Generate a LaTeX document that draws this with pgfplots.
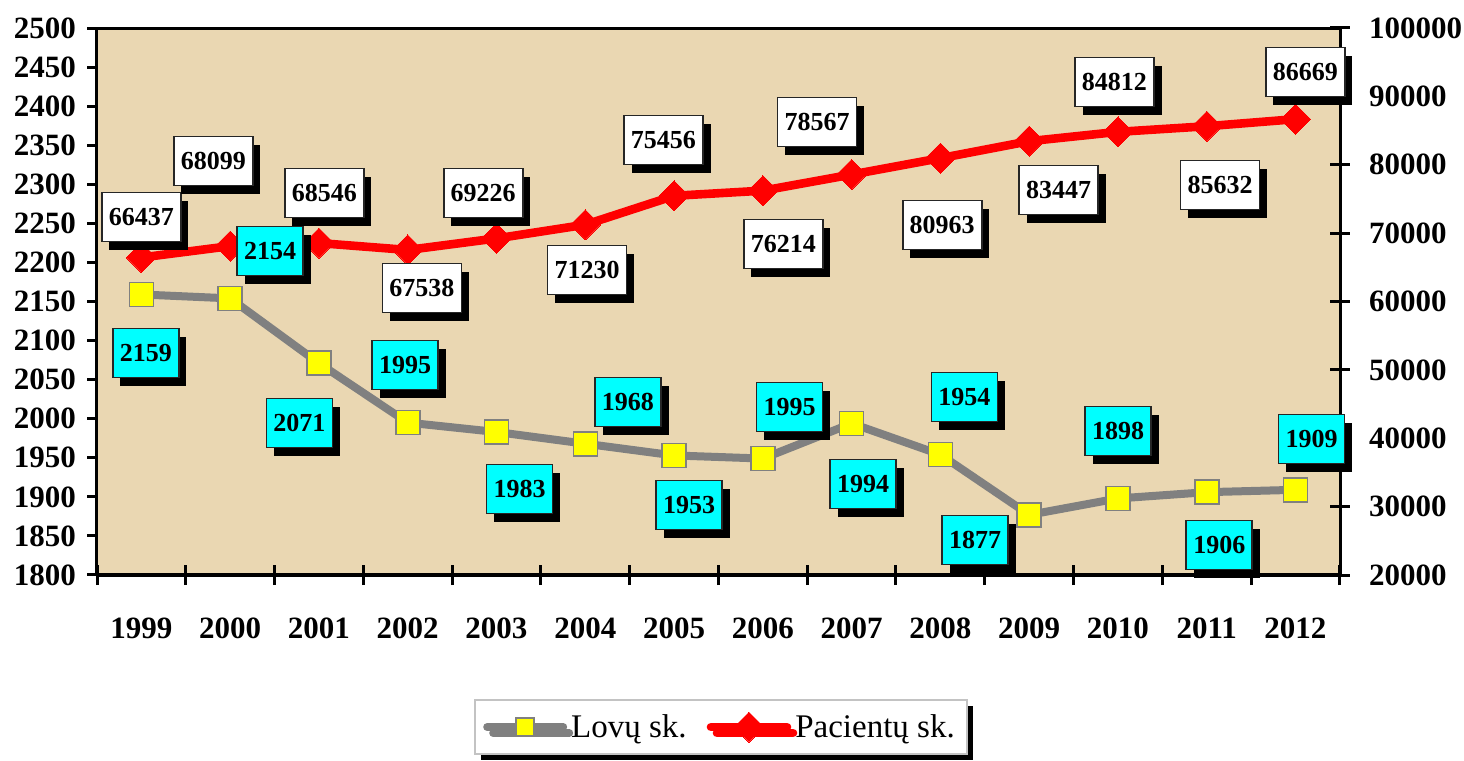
\documentclass[border=0pt]{standalone}
\usepackage{pgfplots}
\pgfplotsset{compat=1.18}
\usepackage{pgfplotstable}
\usepackage{fontspec}
\setmainfont{Liberation Serif}
\usetikzlibrary{shadows}
\definecolor{bg}{RGB}{234,215,178}
\definecolor{lgray}{RGB}{128,128,128}
\definecolor{legbord}{RGB}{195,195,195}
\definecolor{aqua}{RGB}{0,255,255}
\definecolor{pureyellow}{RGB}{255,255,0}
\definecolor{purered}{RGB}{255,0,0}

\pgfplotstableread{
x y
1999 2159
2000 2154
2001 2071
2002 1995
2003 1983
2004 1968
2005 1953
2006 1949
2007 1994
2008 1954
2009 1877
2010 1898
2011 1906
2012 1909
}\lovos

\pgfplotstableread{
x y
1999 66437
2000 68099
2001 68546
2002 67538
2003 69226
2004 71230
2005 75456
2006 76214
2007 78567
2008 80963
2009 83447
2010 84812
2011 85632
2012 86669
}\pacientai

\pgfplotstableread{
x y label
1999.05 2084.1 2159
2000.45 2214.6 2154
2000.78 1994.5 2071
2001.97 2068.7 1995
2003.26 1910.0 1983
2004.48 2021.4 1968
2005.17 1889.6 1953
2006.30 2015.0 1995
2007.13 1916.5 1994
2008.27 2027.8 1954
2008.39 1844.8 1877
2010.00 1984.3 1898
2011.14 1838.4 1906
2012.18 1974.0 1909
}\lovoslbl

\pgfplotstableread{
x y label
1999.00 72359 66437
1999.81 80549 68099
2001.06 75869 68546
2002.16 61975 67538
2002.85 75869 69226
2004.02 64608 71230
2004.88 83620 75456
2006.23 68410 76214
2006.61 86253 78567
2008.02 71189 80963
2009.33 76308 83447
2009.96 92103 84812
2011.15 77039 85632
2012.11 93565 86669
}\pacientailbl

\pgfplotsset{
  base/.style={
    scale only axis, width=621.5pt, height=273.5pt,
    at={(48.5pt,93pt)}, anchor=south west,
    xmin=1998.5, xmax=2012.5, clip=false,
    axis line style={line width=1.5pt, black},
    tick style={line width=1.5pt, black},
    scaled ticks=false,
    /pgf/number format/fixed,
    /pgf/number format/precision=0,
    /pgf/number format/1000 sep={},
    /pgf/number format/assume math mode=true,
    ticklabel style={font=\fontsize{15.5}{18}\selectfont\bfseries},
  },
  lbl/.style={
    draw=none, mark=none,
    nodes near coords, point meta=explicit symbolic,
    every node near coord/.append style={
      anchor=center, draw=black!85, line width=0.8pt, fill=#1,
      font=\fontsize{13}{15}\selectfont\bfseries,
      inner xsep=3.5pt, inner ysep=0pt, minimum height=24.5pt,
      drop shadow={shadow xshift=3.8pt, shadow yshift=-4.3pt, fill=black, opacity=1},
    },
  },
}

\begin{document}
\begin{tikzpicture}
\useasboundingbox (0,0) rectangle (732pt,380.5pt);

% left axis: background, grey series, year labels
\begin{axis}[base,
  ymin=1800, ymax=2500, ytick={1800,1850,...,2500},
  axis background/.style={fill=bg},
  ytick pos=left, tick align=outside, major tick length=5pt,
  xtick={1999,...,2012}, xtick pos=bottom,
  x tick style={draw=none},
  xticklabel shift=13pt,
  yticklabel shift=2pt,
]
\addplot[lgray, line width=4pt, mark=square*, mark size=6pt,
  mark options={fill=pureyellow, draw=lgray, line width=0.8pt}]
  table[x=x,y=y]{\lovos};
\end{axis}

% right axis: red series, x boundary ticks, legend
\begin{axis}[base,
  ymin=20000, ymax=100000, ytick={20000,30000,...,100000},
  axis y line*=right, axis x line*=bottom,
  tick align=center, major tick length=10pt,
  xtick={1998.5,1999.5,...,2012.5}, xticklabels={},
  yticklabel shift=6pt,
  legend columns=2,
  legend image code/.code={\draw[mark repeat=2,mark phase=2,#1] plot coordinates {(0pt,0pt) (19pt,0pt) (38pt,0pt)};},
  legend style={at={(0.502,-0.278)}, anchor=center,
    draw=legbord, line width=1.2pt, fill=white,
    drop shadow={shadow xshift=3pt, shadow yshift=-3pt, fill=black, opacity=1},
    font=\fontsize{16.5}{19}\selectfont,
    inner xsep=4pt, inner ysep=5pt,
    /tikz/every even column/.append style={column sep=8pt}},
]
\addlegendimage{lgray, line width=4pt, line cap=round, mark=square*, mark size=4.5pt,
  mark options={fill=pureyellow, draw=lgray, line width=0.8pt}}
\addlegendentry{Lovų sk.}
\addplot[purered, line width=4.3pt, line cap=round, mark=square*, mark size=5.3pt,
  mark options={fill=purered, draw=purered, line width=0pt, rotate=45}]
  table[x=x,y=y]{\pacientai};
\addlegendentry{Pacientų sk.}
\addplot[lbl=white] table[x=x,y=y,meta=label]{\pacientailbl};
\end{axis}

% hidden axis for grey-series labels (left scale)
\begin{axis}[base, hide axis, ymin=1800, ymax=2500]
\addplot[lbl=aqua] table[x=x,y=y,meta=label]{\lovoslbl};
\end{axis}
\end{tikzpicture}
\end{document}
